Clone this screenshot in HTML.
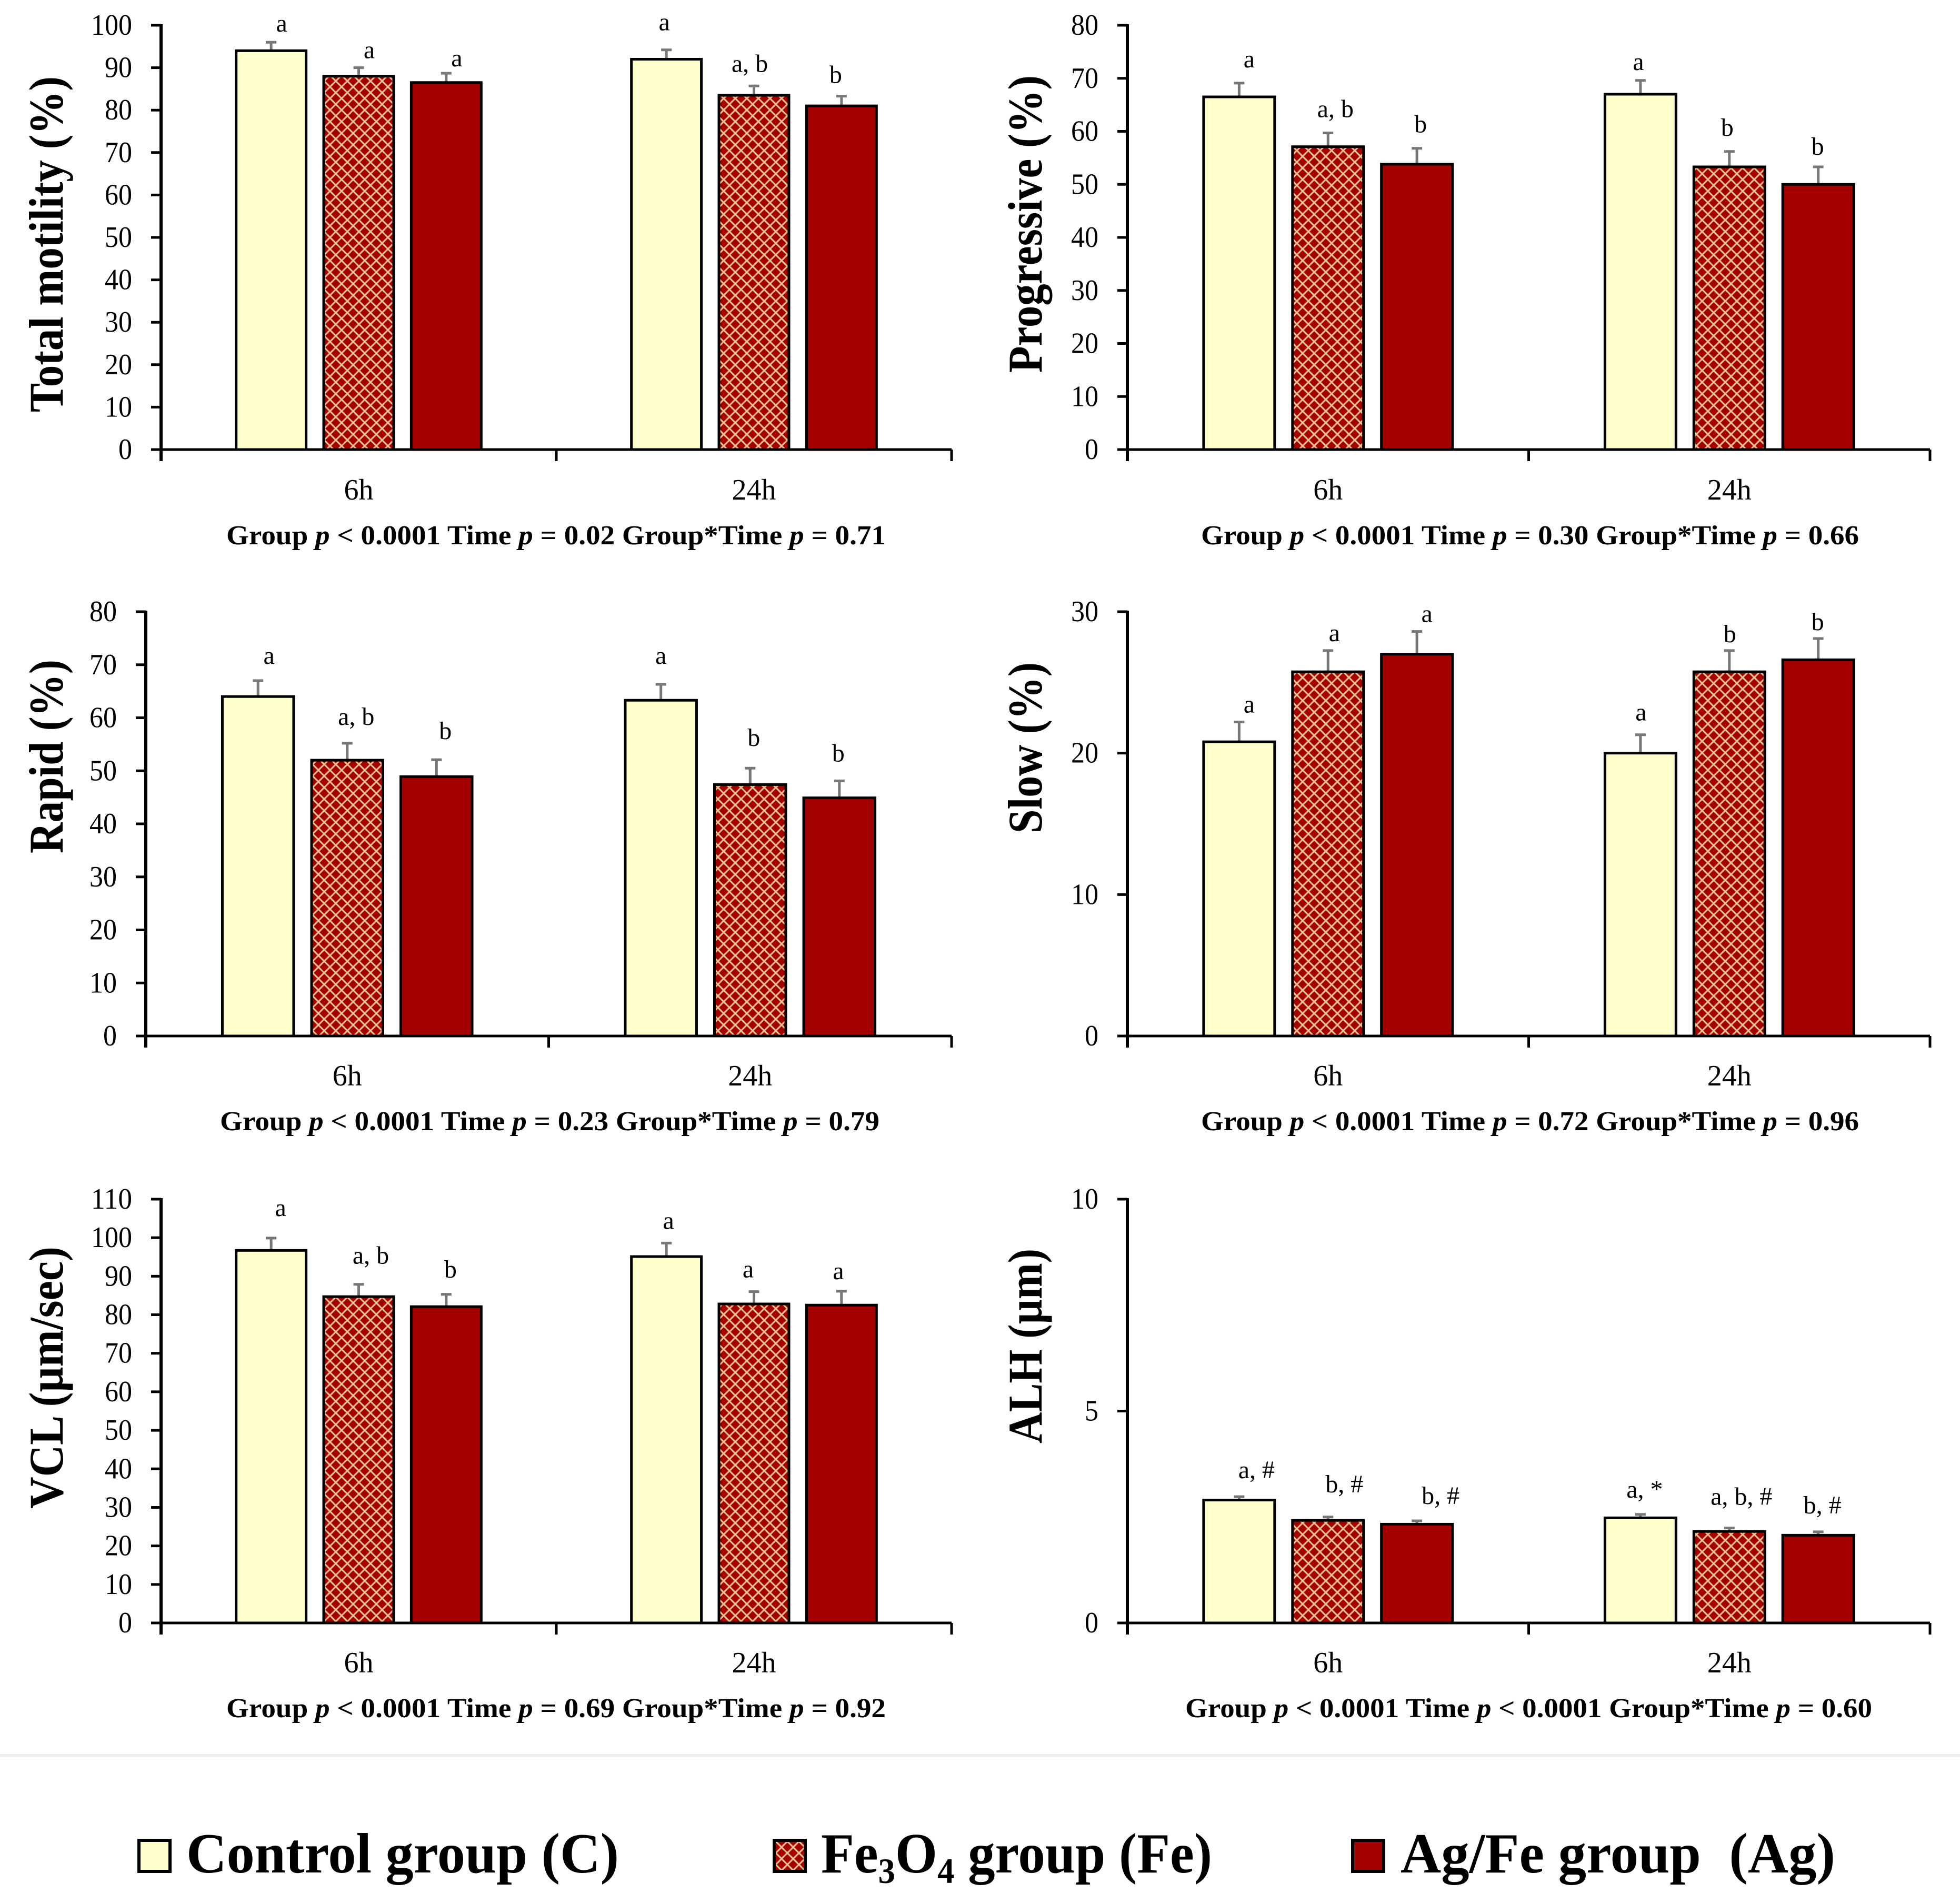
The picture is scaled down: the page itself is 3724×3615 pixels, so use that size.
<!DOCTYPE html>
<html lang="en">
<head>
<meta charset="utf-8">
<title>Sperm motility by group and time</title>
<style>
html,body{margin:0;padding:0;background:#fff;width:3724px;height:3615px;overflow:hidden}
svg{display:block}
text{font-family:"Liberation Serif","DejaVu Serif",serif;fill:#000}
</style>
</head>
<body>
<svg id="figure" xmlns="http://www.w3.org/2000/svg" width="3724" height="3615" viewBox="0 0 3724 3615">
  <defs>
    <pattern id="trellis" patternUnits="userSpaceOnUse" width="22" height="22">
      <rect width="22" height="22" fill="#a50000"/>
      <path d="M0 0L22 22M22 0L0 22" stroke="#e2a078" stroke-width="3.4" fill="none"/>
      <path d="M0 0L22 22M22 0L0 22" stroke="#f4d8a8" stroke-width="1" fill="none"/>
    </pattern>
  </defs>
  <rect width="3724" height="3615" fill="#fff"/>
  <g id="panels"></g>
  <rect x="0" y="3332" width="3724" height="5" fill="#eeeeee"/>
  <g>
    <g>
      <rect x="264" y="3496" width="59" height="59" fill="#ffffcc" stroke="#000" stroke-width="6"/>
      <text x="354" y="3557" font-size="108" font-weight="bold" textLength="822" lengthAdjust="spacingAndGlyphs">Control group (C)</text>
    </g>
    <g>
      <rect x="1471" y="3496" width="59" height="59" fill="url(#trellis)" stroke="#000" stroke-width="6"/>
      <text x="1560" y="3557" font-size="108" font-weight="bold" textLength="743" lengthAdjust="spacingAndGlyphs">Fe<tspan font-size="68" dy="20">3</tspan><tspan dy="-20">O</tspan><tspan font-size="68" dy="20">4</tspan><tspan dy="-20"> group (Fe)</tspan></text>
    </g>
    <g>
      <rect x="2570" y="3496" width="59" height="59" fill="#a50000" stroke="#000" stroke-width="6"/>
      <text x="2661" y="3557" font-size="108" font-weight="bold" textLength="826" lengthAdjust="spacingAndGlyphs" xml:space="preserve">Ag/Fe group  (Ag)</text>
    </g>
  </g>
</svg>
<script>
const categories = ['6h', '24h'];

const motilityTicks = [0, 10, 20, 30, 40, 50, 60, 70, 80, 90, 100];
const motilityValues = [94, 88, 86.5, 92, 83.5, 81];
const motilityErrors = [2, 2, 2.2, 2.2, 2.2, 2.3];
const motilityLetters = ['a', 'a', 'a', 'a', 'a, b', 'b'];

const progressiveTicks = [0, 10, 20, 30, 40, 50, 60, 70, 80];
const progressiveValues = [66.5, 57.1, 53.8, 67, 53.3, 50];
const progressiveErrors = [2.6, 2.6, 3, 2.6, 2.9, 3.3];
const progressiveLetters = ['a', 'a, b', 'b', 'a', 'b', 'b'];

const rapidTicks = [0, 10, 20, 30, 40, 50, 60, 70, 80];
const rapidValues = [64, 52, 48.9, 63.3, 47.4, 44.9];
const rapidErrors = [3, 3.2, 3.2, 3, 3.1, 3.2];
const rapidLetters = ['a', 'a, b', 'b', 'a', 'b', 'b'];

const slowTicks = [0, 10, 20, 30];
const slowValues = [20.8, 25.75, 27, 20, 25.75, 26.6];
const slowErrors = [1.4, 1.5, 1.6, 1.3, 1.5, 1.5];
const slowLetters = ['a', 'a', 'a', 'a', 'b', 'b'];

const vclTicks = [0, 10, 20, 30, 40, 50, 60, 70, 80, 90, 100, 110];
const vclValues = [96.7, 84.7, 82.1, 95.1, 82.8, 82.5];
const vclErrors = [3.2, 3.2, 3.2, 3.5, 3.2, 3.6];
const vclLetters = ['a', 'a, b', 'b', 'a', 'a', 'a'];

const alhTicks = [0, 5, 10];
const alhValues = [2.9, 2.42, 2.33, 2.48, 2.16, 2.07];
const alhErrors = [0.08, 0.08, 0.08, 0.08, 0.08, 0.08];
const alhLetters = ['a, #', 'b, #', 'b, #', 'a, *', 'a, b, #', 'b, #'];

/* Layout only: hand-placed letter offsets from each bar, in px */
const motilityLetterDx = [20, 20, 20, -4, -8, -11];
const motilityLetterDy = [33, 31, 26, 50, 40, 38];
const progressiveLetterDx = [19, 14, 7, -4, -4, -1];
const progressiveLetterDy = [43, 43, 43, 33, 43, 36];
const rapidLetterDx = [21, 17, 17, 0, 7, -2];
const rapidLetterDy = [45, 48, 52, 52, 55, 50];
const slowLetterDx = [19, 12, 19, 1, 1, -1];
const slowLetterDy = [31, 31, 31, 40, 29, 29];
const vclLetterDx = [18, 23, 8, 4, -11, -6];
const vclLetterDy = [55, 52, 45, 40, 40, 36];
const alhLetterDx = [33, 31, 45, 8, 23, 8];
const alhLetterDy = [48, 60, 45, 45, 57, 48];

const panels = [
  { key: 'total-motility', title: 'Total motility (%)', titleLen: 638, ticks: motilityTicks, values: motilityValues, errors: motilityErrors, letters: motilityLetters, dx: motilityLetterDx, dy: motilityLetterDy,
    x0: 306, x1: 1808, top: 48, bottom: 854, catY: 949, titleX: 119, titleY: 783,
    stats: 'Group <tspan font-style="italic">p</tspan> &lt; 0.0001 Time <tspan font-style="italic">p</tspan> = 0.02 Group*Time <tspan font-style="italic">p</tspan> = 0.71', statsX: 430, statsLen: 1253, statsY: 1034 },
  { key: 'progressive', title: 'Progressive (%)', titleLen: 565, ticks: progressiveTicks, values: progressiveValues, errors: progressiveErrors, letters: progressiveLetters, dx: progressiveLetterDx, dy: progressiveLetterDy,
    x0: 2142, x1: 3667, top: 48, bottom: 854, catY: 949, titleX: 1979, titleY: 708,
    stats: 'Group <tspan font-style="italic">p</tspan> &lt; 0.0001 Time <tspan font-style="italic">p</tspan> = 0.30 Group*Time <tspan font-style="italic">p</tspan> = 0.66', statsX: 2282, statsLen: 1250, statsY: 1034 },
  { key: 'rapid', title: 'Rapid (%)', titleLen: 368, ticks: rapidTicks, values: rapidValues, errors: rapidErrors, letters: rapidLetters, dx: rapidLetterDx, dy: rapidLetterDy,
    x0: 277, x1: 1808, top: 1162, bottom: 1968, catY: 2062, titleX: 119, titleY: 1621,
    stats: 'Group <tspan font-style="italic">p</tspan> &lt; 0.0001 Time <tspan font-style="italic">p</tspan> = 0.23 Group*Time <tspan font-style="italic">p</tspan> = 0.79', statsX: 418, statsLen: 1253, statsY: 2147 },
  { key: 'slow', title: 'Slow (%)', titleLen: 325, ticks: slowTicks, values: slowValues, errors: slowErrors, letters: slowLetters, dx: slowLetterDx, dy: slowLetterDy,
    x0: 2142, x1: 3667, top: 1162, bottom: 1968, catY: 2062, titleX: 1979, titleY: 1583,
    stats: 'Group <tspan font-style="italic">p</tspan> &lt; 0.0001 Time <tspan font-style="italic">p</tspan> = 0.72 Group*Time <tspan font-style="italic">p</tspan> = 0.96', statsX: 2282, statsLen: 1250, statsY: 2147 },
  { key: 'vcl', title: 'VCL (µm/sec)', titleLen: 498, ticks: vclTicks, values: vclValues, errors: vclErrors, letters: vclLetters, dx: vclLetterDx, dy: vclLetterDy,
    x0: 306, x1: 1808, top: 2278, bottom: 3083, catY: 3177, titleX: 119, titleY: 2866,
    stats: 'Group <tspan font-style="italic">p</tspan> &lt; 0.0001 Time <tspan font-style="italic">p</tspan> = 0.69 Group*Time <tspan font-style="italic">p</tspan> = 0.92', statsX: 430, statsLen: 1253, statsY: 3262 },
  { key: 'alh', title: 'ALH (µm)', titleLen: 370, ticks: alhTicks, values: alhValues, errors: alhErrors, letters: alhLetters, dx: alhLetterDx, dy: alhLetterDy,
    x0: 2142, x1: 3667, top: 2278, bottom: 3083, catY: 3177, titleX: 1979, titleY: 2742,
    stats: 'Group <tspan font-style="italic">p</tspan> &lt; 0.0001 Time <tspan font-style="italic">p</tspan> &lt; 0.0001 Group*Time <tspan font-style="italic">p</tspan> = 0.60', statsX: 2252, statsLen: 1305, statsY: 3262 }
];

const SVG_NS = 'http://www.w3.org/2000/svg';
const fills = ['#ffffcc', 'url(#trellis)', '#a50000'];
const seriesKeys = ['control', 'fe3o4', 'ag-fe'];
const root = document.getElementById('panels');

function make(tag, attrs, parent) {
  const el = document.createElementNS(SVG_NS, tag);
  for (const k in attrs) el.setAttribute(k, attrs[k]);
  parent.appendChild(el);
  return el;
}

function yScale(p) {
  const max = p.ticks[p.ticks.length - 1];
  return v => p.bottom - (v / max) * (p.bottom - p.top);
}

function groupWidth(p) {
  return (p.x1 - p.x0) / categories.length;
}

function groupCenter(p, g) {
  return p.x0 + groupWidth(p) * (g + 0.5);
}

function barCenter(p, g, s) {
  return groupCenter(p, g) + (s - 1) * groupWidth(p) * 0.2215;
}

panels.forEach(p => {
  const y = yScale(p);
  const w = groupWidth(p) * 0.177;

  const g = make('g', {}, root);
  
  

  /* bars and error bars */
  p.values.forEach((value, i) => {
    const group = Math.floor(i / 3);
    const s = i % 3;
    const cx = barCenter(p, group, s);
    const topY = y(value);
    const capY = y(value + p.errors[i]);

    const line = make('line', { x1: cx, x2: cx, y1: topY, y2: capY, stroke: '#777', 'stroke-width': 5 }, g);
    
    

    const cap = make('line', { x1: cx - 10, x2: cx + 10, y1: capY, y2: capY, stroke: '#777', 'stroke-width': 5 }, g);
    
    

    const bar = make('rect', { x: cx - w / 2, y: topY, width: w, height: p.bottom - topY, fill: fills[s], stroke: '#000', 'stroke-width': 5 }, g);
    
    

    const letter = make('text', { x: cx + p.dx[i], y: capY - p.dy[i] + 13, 'font-size': 48, 'text-anchor': 'middle' }, g);
    letter.textContent = p.letters[i];
    
    
  });

  /* y axis */
  const yAxis = make('line', { x1: p.x0, x2: p.x0, y1: p.top - 2, y2: p.bottom + 22, stroke: '#000', 'stroke-width': 6 }, g);
  
  

  p.ticks.forEach(t => {
    const tick = make('line', { x1: p.x0 - 19, x2: p.x0, y1: y(t), y2: y(t), stroke: '#000', 'stroke-width': 5 }, g);
    
    

    const label = make('text', { x: p.x0 - 55, y: y(t) + 18, 'font-size': 56, 'text-anchor': 'end', textLength: String(t).length * 26, lengthAdjust: 'spacingAndGlyphs' }, g);
    label.textContent = t;
    
    
  });

  /* x axis */
  const xAxis = make('line', { x1: p.x0, x2: p.x1, y1: p.bottom, y2: p.bottom, stroke: '#000', 'stroke-width': 5 }, g);
  
  

  [0, 1, 2].forEach(n => {
    const tx = p.x0 + groupWidth(p) * n;
    const tick = make('line', { x1: tx, x2: tx, y1: p.bottom, y2: p.bottom + 22, stroke: '#000', 'stroke-width': 5 }, g);
    
    
  });

  categories.forEach((c, n) => {
    const label = make('text', { x: groupCenter(p, n), y: p.catY, 'font-size': 56, 'text-anchor': 'middle' }, g);
    label.textContent = c;
    
    
  });

  /* y-axis title */
  const title = make('text', { transform: 'translate(' + p.titleX + ' ' + p.titleY + ') rotate(-90)', 'font-size': 92, 'font-weight': 'bold', textLength: p.titleLen, lengthAdjust: 'spacingAndGlyphs' }, g);
  title.textContent = p.title;
  
  

  /* statistics caption */
  const stats = make('text', { x: p.statsX, y: p.statsY, 'font-size': 52, 'font-weight': 'bold', textLength: p.statsLen, lengthAdjust: 'spacingAndGlyphs' }, g);
  stats.innerHTML = p.stats;
  
  
});
</script>
</body>
</html>
